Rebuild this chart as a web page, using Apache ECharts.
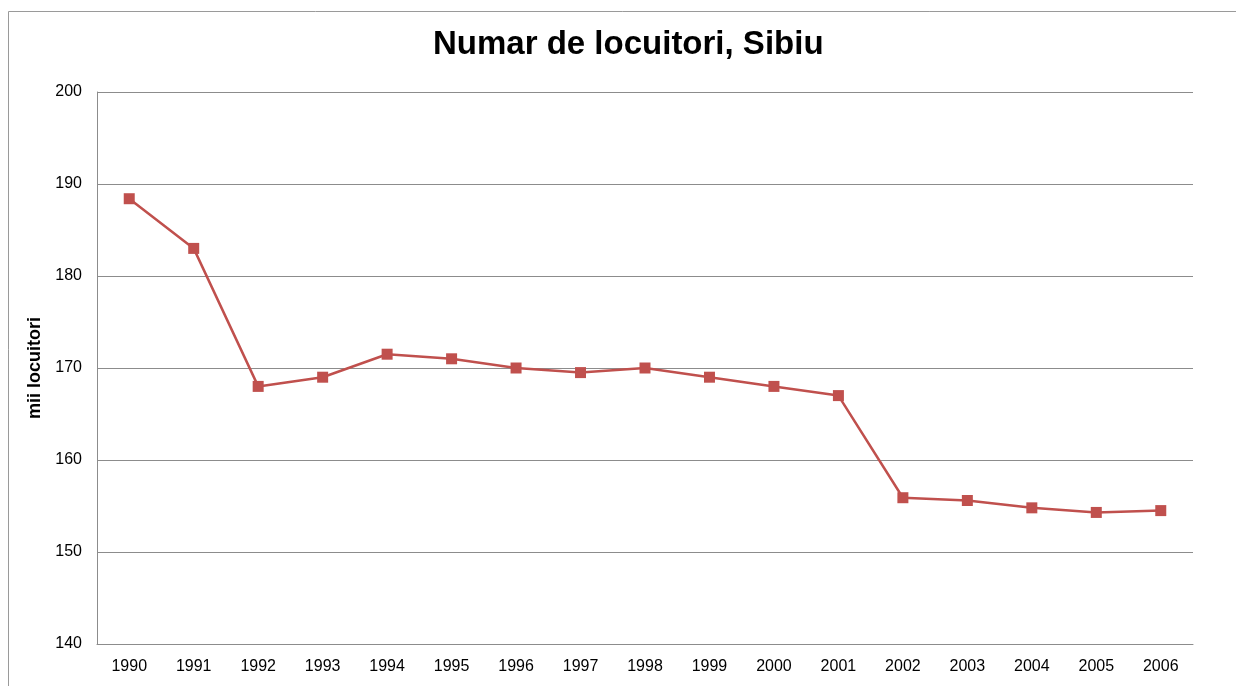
<!DOCTYPE html>
<html>
<head>
<meta charset="utf-8">
<script src="https://cdn.jsdelivr.net/npm/echarts@6/dist/echarts.min.js"></script>
<style>
html,body{margin:0;padding:0;background:#fff;}
#c{width:1236px;height:686px;}
</style>
</head>
<body>
<div id="c"></div>
<script>
const years = ['1990','1991','1992','1993','1994','1995','1996','1997','1998','1999','2000','2001','2002','2003','2004','2005','2006'];
const population = [188.4,183.0,168.0,169.0,171.5,171.0,170.0,169.5,170.0,169.0,168.0,167.0,155.9,155.6,154.8,154.3,154.5];
const titleText = 'Numar de locuitori, Sibiu';
const yName = 'mii locuitori';

const chart = echarts.init(document.getElementById('c'));
chart.setOption({
  animation: false,
  backgroundColor: '#fff',
  title: {
    text: titleText,
    left: 428,
    top: 23,
    textStyle: {fontFamily: 'Liberation Sans, Arial', fontSize: 33, fontWeight: 'bold', color: '#000'}
  },
  graphic: [{
    type: 'rect',
    shape: {x: 8.5, y: 11.5, width: 1300, height: 700},
    style: {fill: 'none', stroke: '#9a9a9a', lineWidth: 1},
    silent: true,
    z: -10
  }],
  grid: {left: 97, right: 43, top: 92, bottom: 42},
  xAxis: {
    type: 'category',
    data: years,
    boundaryGap: true,
    axisLine: {show: true, lineStyle: {color: '#8c8c8c', width: 1}},
    axisTick: {show: false},
    axisLabel: {fontFamily: 'Liberation Sans, Arial', fontSize: 16, color: '#000', margin: 15}
  },
  yAxis: {
    type: 'value',
    min: 140, max: 200, interval: 10,
    name: yName,
    nameLocation: 'middle',
    nameGap: 47,
    nameTextStyle: {fontFamily: 'Liberation Sans, Arial', fontSize: 18, fontWeight: 'bold', color: '#000'},
    axisLine: {show: true, lineStyle: {color: '#8c8c8c', width: 1}},
    axisTick: {show: false},
    axisLabel: {fontFamily: 'Liberation Sans, Arial', fontSize: 16, color: '#000', margin: 15},
    splitLine: {show: true, lineStyle: {color: '#8c8c8c', width: 1}}
  },
  series: [{
    type: 'line',
    data: population,
    symbol: 'rect',
    symbolSize: 11,
    lineStyle: {color: '#C0504D', width: 2.5},
    itemStyle: {color: '#C0504D'}
  }]
});
</script>
</body>
</html>
